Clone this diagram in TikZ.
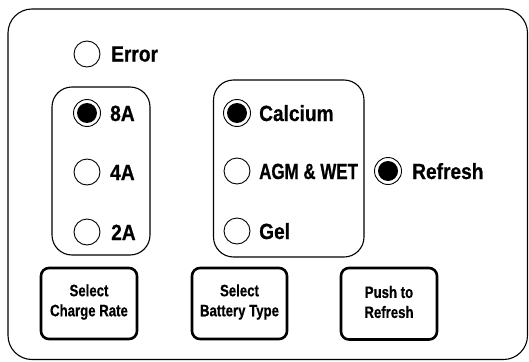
\documentclass[tikz,border=0pt]{standalone}
\usepackage{fontspec}
\newfontfamily\lblfont[FakeStretch=0.87,BoldFeatures={FakeBold=0.6}]{Liberation Sans}
\newfontfamily\narrowfont[FakeStretch=0.77,BoldFeatures={FakeBold=0.6}]{Liberation Sans}
\newfontfamily\btnfont[FakeStretch=0.8,BoldFeatures={FakeBold=0.5}]{Liberation Sans}
\begin{document}
\begin{tikzpicture}[x=1pt,y=-1pt,
  frame/.style={draw, line width=1.1pt, rounded corners=24pt},
  group/.style={draw, line width=1.1pt, rounded corners=20pt},
  led/.style={circle, draw, line width=0.9pt, minimum size=26pt, inner sep=0pt},
  ledon/.style={led, minimum size=27pt, path picture={\fill (path picture bounding box.center) circle (10pt);}},
  lbl/.style={anchor=base west, inner sep=0pt, font=\lblfont\bfseries\fontsize{22}{24}\selectfont},
  btntext/.style={align=center, inner sep=0pt, font=\btnfont\bfseries\fontsize{16.5}{20}\selectfont},
  btn/.style={draw, line width=2.6pt, rounded corners=8pt},
]
\useasboundingbox (0,0) rectangle (529,361);
\draw[frame] (8,9) rectangle (527.5,359.5);
\draw[group] (52,87) rectangle (150,255);
\draw[group] (213.5,80) rectangle (364,257);

\node[led] (err) at (87,54) {};
\node[lbl] (errt) at (111,61.5) {Error};

\node[ledon] (a8) at (87,113) {};
\node[lbl] (a8t) at (110,121) {8A};
\node[led] (a4) at (87,172) {};
\node[lbl] (a4t) at (110,180) {4A};
\node[led] (a2) at (87,232) {};
\node[lbl] (a2t) at (111,240) {2A};

\node[ledon] (ca) at (237,113) {};
\node[lbl] (cat) at (259,121) {Calcium};
\node[led] (agm) at (237,171) {};
\node[lbl, font=\narrowfont\bfseries\fontsize{22}{24}\selectfont] (agmt) at (259,179) {AGM \& WET};
\node[led] (gel) at (237,231) {};
\node[lbl] (gelt) at (259,239) {Gel};

\node[ledon] (rf) at (388,171) {};
\node[lbl] (rft) at (412,179) {Refresh};

\draw[btn] (41,268) rectangle (137,339);
\draw[btn] (192,268) rectangle (287,339);
\draw[btn] (341,268) rectangle (437,339.5);
\node[btntext] (b1) at (89,302) {Select\\Charge Rate};
\node[btntext] (b2) at (239.5,302) {Select\\Battery Type};
\node[btntext] (b3) at (389,302) {Push to\\Refresh};
\end{tikzpicture}
\end{document}
